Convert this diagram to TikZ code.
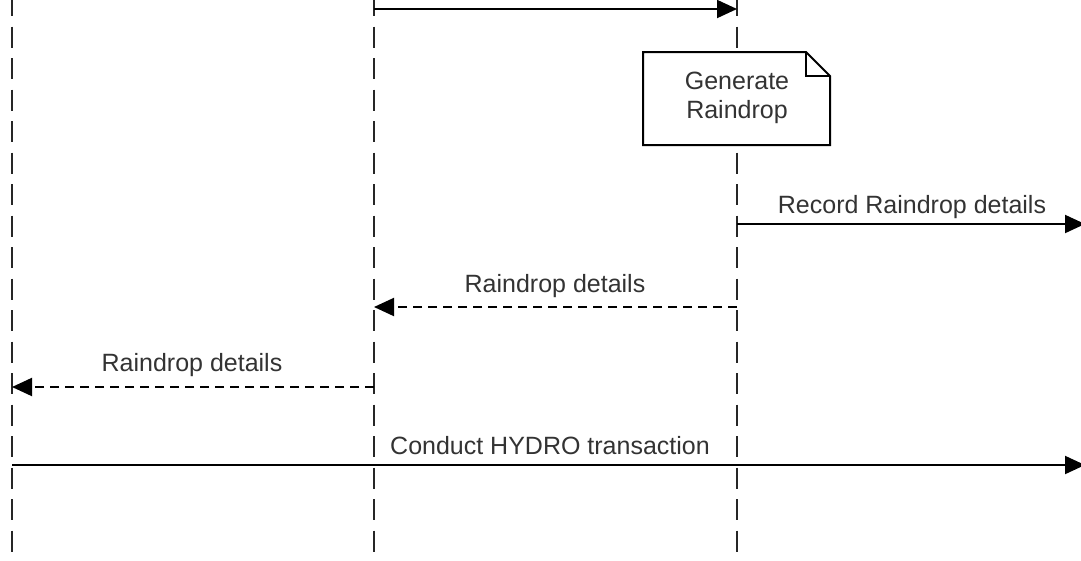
\documentclass[tikz,border=0pt]{standalone}
\usepackage{fontspec}
\setmainfont{Liberation Sans}
\usetikzlibrary{arrows.meta}
\begin{document}
\begin{tikzpicture}[x=1pt,y=-1pt,
  lifeline/.style={line width=2pt, dash pattern=on 21pt off 10.5pt, color=black!85},
  msg/.style={line width=2pt, -{Triangle[length=20pt,width=18pt]}},
  reply/.style={msg, dash pattern=on 9pt off 6pt},
  lbl/.style={font=\fontsize{25}{29}\selectfont, text=black!80, inner sep=0pt},
  notebox/.style={draw, line width=2pt, fill=white}
]
\useasboundingbox (0,0) rectangle (1081,560);
% lifelines
\coordinate (la) at (12,-5);  \coordinate (lae) at (12,565);
\coordinate (lb) at (374,-5); \coordinate (lbe) at (374,565);
\coordinate (lc) at (737,-5); \coordinate (lce) at (737,565);
\draw[lifeline] (la) -- (lae);
\draw[lifeline] (lb) -- (lbe);
\draw[lifeline] (lc) -- (lce);
% top message
\coordinate (m0s) at (374,9); \coordinate (m0e) at (737,9);
\draw[msg] (m0s) -- (m0e);
% note
\coordinate (n1) at (643,52); \coordinate (n2) at (806,52);
\coordinate (n3) at (830,76); \coordinate (n4) at (830,145); \coordinate (n5) at (643,145);
\draw[notebox] (n1) -- (n2) -- (n3) -- (n4) -- (n5) -- cycle;
\draw[line width=2pt] (n2) -- (806,76) -- (n3);
\node[lbl, align=center] (note) at (737,98) {Generate\\Raindrop};
% messages
\coordinate (m1s) at (737,224); \coordinate (m1e) at (1085,224);
\draw[msg] (m1s) -- (m1e);
\node[lbl] (t1) at (912,207) {Record Raindrop details};
\coordinate (m2s) at (737,307); \coordinate (m2e) at (374,307);
\draw[reply] (m2s) -- (m2e);
\node[lbl] (t2) at (555,286) {Raindrop details};
\coordinate (m3s) at (374,387); \coordinate (m3e) at (12,387);
\draw[reply] (m3s) -- (m3e);
\node[lbl] (t3) at (192,365) {Raindrop details};
\coordinate (m4s) at (12,465); \coordinate (m4e) at (1085,465);
\draw[msg] (m4s) -- (m4e);
\node[lbl] (t4) at (550,446) {Conduct HYDRO transaction};
\end{tikzpicture}
\end{document}
